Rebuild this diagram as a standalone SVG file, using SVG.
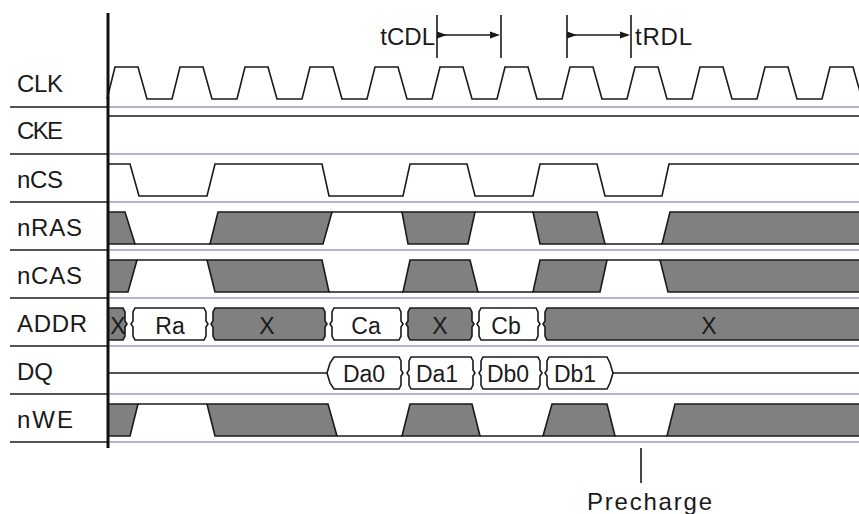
<svg xmlns="http://www.w3.org/2000/svg" width="859" height="514" viewBox="0 0 859 514">
<style>
.lbl{font-family:"Liberation Sans",Arial,sans-serif;font-size:24px;fill:#1a1a1a}
.in{font-family:"Liberation Sans",Arial,sans-serif;font-size:23px;fill:#1a1a1a;text-anchor:middle}
.w{fill:none;stroke:#1a1a1a;stroke-width:1.6;stroke-linejoin:miter}
.x{fill:#808080;stroke:#1a1a1a;stroke-width:1.6}
.b{fill:#ffffff;stroke:#1a1a1a;stroke-width:1.6}
.sepL{stroke:#1a1a1a;stroke-width:1.6}
.sepR{stroke:#b4b4cc;stroke-width:2}
.dim{stroke:#1a1a1a;stroke-width:1.6;fill:none}
</style>
<defs>
<path id="ah" d="M-10,-3.5 L0,0 L-10,3.5 Z" fill="#1a1a1a"/>
</defs>
<rect width="859" height="514" fill="#ffffff"/>

<g id="grid">
<line class="sepL" x1="10" y1="107" x2="108" y2="107"/><line class="sepR" x1="109" y1="107" x2="859" y2="107"/>
<line class="sepL" x1="10" y1="154" x2="108" y2="154"/><line class="sepR" x1="109" y1="154" x2="859" y2="154"/>
<line class="sepL" x1="10" y1="202" x2="108" y2="202"/><line class="sepR" x1="109" y1="202" x2="859" y2="202"/>
<line class="sepL" x1="10" y1="250" x2="108" y2="250"/><line class="sepR" x1="109" y1="250" x2="859" y2="250"/>
<line class="sepL" x1="10" y1="298" x2="108" y2="298"/><line class="sepR" x1="109" y1="298" x2="859" y2="298"/>
<line class="sepL" x1="10" y1="346" x2="108" y2="346"/><line class="sepR" x1="109" y1="346" x2="859" y2="346"/>
<line class="sepL" x1="10" y1="394" x2="108" y2="394"/><line class="sepR" x1="109" y1="394" x2="859" y2="394"/>
<line class="sepL" x1="10" y1="442" x2="108" y2="442"/><line class="sepR" x1="109" y1="442" x2="859" y2="442"/>
</g>

<g id="CLK">
<text class="lbl" x="17" y="92" textLength="46" lengthAdjust="spacing">CLK</text>
<path class="w" d="M107,99 L115,67 H138 L147,99 H172 L180,67 H203 L212,99 H237 L245,67 H268 L277,99 H302 L310,67 H333 L342,99 H367 L375,67 H398 L407,99 H432 L440,67 H463 L472,99 H497 L505,67 H528 L537,99 H562 L570,67 H593 L602,99 H627 L635,67 H658 L667,99 H692 L700,67 H723 L732,99 H757 L765,67 H788 L797,99 H822 L830,67 H853 L862,99"/>
</g>

<g id="CKE">
<text class="lbl" x="17" y="139" textLength="46" lengthAdjust="spacing">CKE</text>
<line class="w" x1="108" y1="116" x2="859" y2="116"/>
</g>

<g id="nCS">
<text class="lbl" x="17" y="188" textLength="46" lengthAdjust="spacing">nCS</text>
<path class="w" d="M108,164 H130 L139,196 H207 L215,164 H322 L329,196 H403 L410,164 H467 L475,196 H533 L540,164 H597 L605,196 H662 L669,164 H859"/>
</g>

<g id="nRAS">
<text class="lbl" x="17" y="236" textLength="65" lengthAdjust="spacing">nRAS</text>
<polygon class="x" points="108,212 125,212 135,244 108,244"/>
<line class="w" x1="135" y1="244" x2="210" y2="244"/>
<polygon class="x" points="210,244 218,212 332,212 323,244"/>
<line class="w" x1="332" y1="212" x2="402" y2="212"/>
<polygon class="x" points="402,212 475,212 468,244 408,244"/>
<line class="w" x1="475" y1="212" x2="533" y2="212"/>
<polygon class="x" points="533,212 597,212 605,244 540,244"/>
<line class="w" x1="605" y1="244" x2="662" y2="244"/>
<polygon class="x" points="662,244 670,212 864,212 864,244"/>
</g>

<g id="nCAS">
<text class="lbl" x="17" y="284" textLength="65" lengthAdjust="spacing">nCAS</text>
<polygon class="x" points="108,260 137,260 128,292 108,292"/>
<line class="w" x1="137" y1="260" x2="207" y2="260"/>
<polygon class="x" points="207,260 322,260 329,292 215,292"/>
<line class="w" x1="329" y1="292" x2="403" y2="292"/>
<polygon class="x" points="403,292 410,260 470,260 478,292"/>
<line class="w" x1="478" y1="292" x2="533" y2="292"/>
<polygon class="x" points="533,292 540,260 607,260 600,292"/>
<line class="w" x1="607" y1="260" x2="660" y2="260"/>
<polygon class="x" points="660,260 864,260 864,292 668,292"/>
</g>

<g id="ADDR">
<text class="lbl" x="17" y="332" textLength="70" lengthAdjust="spacing">ADDR</text>
<polygon class="x" points="108,308 123,308 125,312 125,321 127,324 125,327 125,336 123,340 108,340"/>
<polygon class="b" points="135,308 204,308 206,312 206,321 208,324 206,327 206,336 204,340 135,340 133,336 133,327 131,324 133,321 133,312"/>
<polygon class="x" points="215,308 323,308 325,312 325,321 327,324 325,327 325,336 323,340 215,340 213,336 213,327 211,324 213,321 213,312"/>
<polygon class="b" points="334,308 399,308 401,312 401,321 403,324 401,327 401,336 399,340 334,340 332,336 332,327 330,324 332,321 332,312"/>
<polygon class="x" points="410,308 470,308 472,312 472,321 474,324 472,327 472,336 470,340 410,340 408,336 408,327 406,324 408,321 408,312"/>
<polygon class="b" points="481,308 536,308 538,312 538,321 540,324 538,327 538,336 536,340 481,340 479,336 479,327 477,324 479,321 479,312"/>
<polygon class="x" points="547,308 864,308 864,340 547,340 545,336 545,327 543,324 545,321 545,312"/>
<text class="in" x="118" y="334">X</text>
<text class="in" x="170" y="334">Ra</text>
<text class="in" x="267" y="334">X</text>
<text class="in" x="366" y="334">Ca</text>
<text class="in" x="440" y="334">X</text>
<text class="in" x="506" y="334">Cb</text>
<text class="in" x="709" y="334">X</text>
</g>

<g id="DQ">
<text class="lbl" x="17" y="380" textLength="36" lengthAdjust="spacing">DQ</text>
<line class="w" x1="108" y1="373" x2="327" y2="373"/>
<line class="w" x1="613" y1="373" x2="859" y2="373"/>
<polygon class="b" points="334,357 399,357 401,361 401,370 403,373 401,376 401,385 399,389 334,389 330,383 327,373 330,363"/>
<polygon class="b" points="411,357 471,357 473,361 473,370 475,373 473,376 473,385 471,389 411,389 409,385 409,376 407,373 409,370 409,361"/>
<polygon class="b" points="483,357 538,357 540,361 540,370 542,373 540,376 540,385 538,389 483,389 481,385 481,376 479,373 481,370 481,361"/>
<polygon class="b" points="549,357 607,357 610,363 613,373 610,383 607,389 549,389 547,385 547,376 545,373 547,370 547,361"/>
<text class="in" x="364" y="382">Da0</text>
<text class="in" x="437" y="382">Da1</text>
<text class="in" x="508" y="382">Db0</text>
<text class="in" x="575" y="382">Db1</text>
</g>

<g id="nWE">
<text class="lbl" x="17" y="428" textLength="56" lengthAdjust="spacing">nWE</text>
<polygon class="x" points="108,404 138,404 130,436 108,436"/>
<line class="w" x1="138" y1="404" x2="207" y2="404"/>
<polygon class="x" points="207,404 328,404 337,436 215,436"/>
<line class="w" x1="337" y1="436" x2="402" y2="436"/>
<polygon class="x" points="402,436 410,404 472,404 480,436"/>
<line class="w" x1="480" y1="436" x2="543" y2="436"/>
<polygon class="x" points="543,436 552,404 607,404 615,436"/>
<line class="w" x1="615" y1="436" x2="667" y2="436"/>
<polygon class="x" points="667,436 675,404 864,404 864,436"/>
</g>

<g id="axis">
<line x1="108" y1="13" x2="108" y2="448" stroke="#111111" stroke-width="3"/>
</g>

<g id="connectors">
<line class="dim" x1="437" y1="15" x2="437" y2="58"/>
<line class="dim" x1="501" y1="15" x2="501" y2="58"/>
<line class="dim" x1="437" y1="35" x2="498" y2="35"/>
<use href="#ah" transform="translate(447,35)"/>
<use href="#ah" transform="translate(500,35)"/>
<line class="dim" x1="567" y1="15" x2="567" y2="58"/>
<line class="dim" x1="631" y1="15" x2="631" y2="58"/>
<line class="dim" x1="567" y1="35" x2="628" y2="35"/>
<use href="#ah" transform="translate(577,35)"/>
<use href="#ah" transform="translate(630,35)"/>
<line class="dim" x1="641" y1="448" x2="641" y2="483"/>
</g>

<g id="annotations">
<text class="lbl" x="435" y="45" text-anchor="end">tCDL</text>
<text class="lbl" x="635" y="45" textLength="57" lengthAdjust="spacing">tRDL</text>
<text class="lbl" x="587" y="510" textLength="125" lengthAdjust="spacing">Precharge</text>
</g>
</svg>
